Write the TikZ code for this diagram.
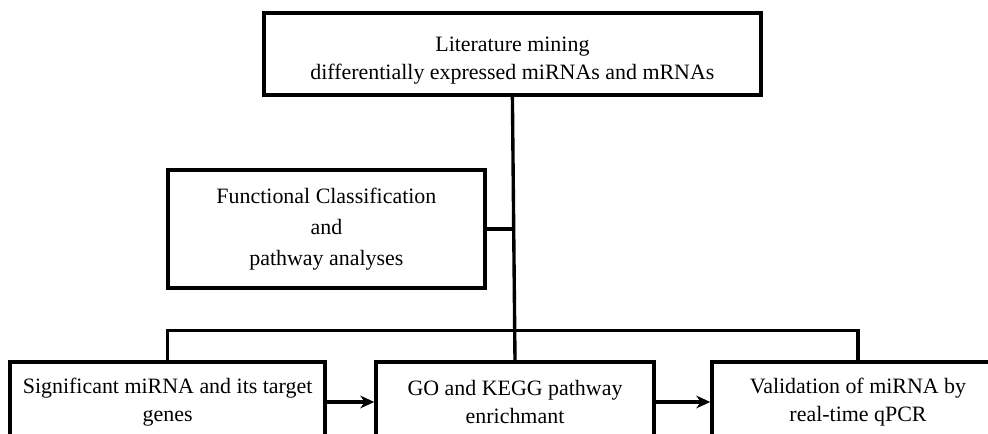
\documentclass[tikz,border=0pt]{standalone}
\usepackage{fontspec}
\setmainfont{Liberation Serif}
\usetikzlibrary{arrows.meta,positioning}

\begin{document}
\begin{tikzpicture}[
    box/.style={rectangle, draw, line width=2.4pt, align=center, font=\fontsize{15.6}{19.5}\selectfont, inner sep=0pt},
    arrow/.style={-{Stealth[length=10pt,width=9pt]}, line width=2.4pt},
    link/.style={line width=2.4pt}
]

% Frame
\useasboundingbox (0,0) rectangle (24.7,10.85);
\clip (0,0) rectangle (24.7,10.85);

% Top box
\node[box, minimum width=12.425cm, minimum height=2.05cm] (mining) at (12.81,9.5) {\rule{0pt}{0.69cm}Literature mining\\differentially expressed miRNAs and mRNAs};

% Side box
\node[box, minimum width=7.925cm, minimum height=2.95cm, font=\fontsize{15.6}{22}\selectfont] (func) at (8.16,5.125) {Functional Classification\\and\\pathway analyses};

% Bottom row
\node[box, minimum width=7.875cm, minimum height=2.0cm] (signif) at (4.19,0.8) {Significant miRNA and its target\\genes};
\node[box, minimum width=6.95cm, minimum height=2.0cm] (kegg) at (12.875,0.8) {GO and KEGG pathway\\enrichmant};
\node[box, minimum width=7.3cm, minimum height=2.0cm] (valid) at (21.45,0.8) {Validation of miRNA by\\real-time qPCR};

% Connectors
\draw[link] (mining.south) -- (kegg.north);
\draw[link] (func.east) -- (func.east -| mining.south);
\draw[link] (signif.north) -- ++(0,0.75) -| (valid.north);

% Arrows
\draw[arrow] (signif.east) -- (kegg.west);
\draw[arrow] (kegg.east) -- (valid.west);

\end{tikzpicture}
\end{document}
